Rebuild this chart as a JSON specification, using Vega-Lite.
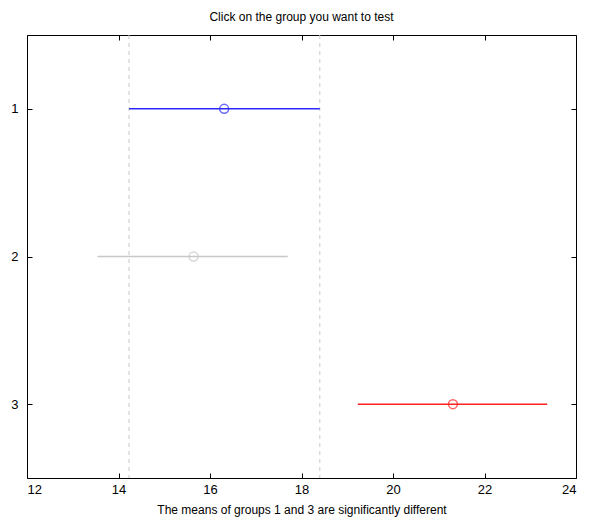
{
  "$schema": "https://vega.github.io/schema/vega-lite/v6.json",
  "autosize": "none",
  "width": 549,
  "height": 443,
  "padding": {"left": 27, "top": 35, "right": 19, "bottom": 47},
  "background": "white",
  "config": {
    "font": "Liberation Sans",
    "view": {"stroke": "black", "strokeWidth": 1},
    "axis": {"grid": false, "domain": false, "offset": -5, "tickColor": "black", "labelColor": "black", "titleColor": "black", "labelFont": "Liberation Sans", "titleFont": "Liberation Sans", "labelFontSize": 13, "labelFontWeight": "normal", "titleFontSize": 12, "titleFontWeight": "normal", "ticks": true, "tickSize": 5, "tickWidth": 1}
  },
  "title": {"text": "Click on the group you want to test", "fontSize": 12, "fontWeight": "normal", "font": "Liberation Sans", "color": "black", "offset": 11},
  "datasets": {
    "groups": [
      {"group": 1, "mean": 16.31, "lo": 14.23, "hi": 18.40},
      {"group": 2, "mean": 15.64, "lo": 13.54, "hi": 17.70},
      {"group": 3, "mean": 21.31, "lo": 19.23, "hi": 23.37}
    ],
    "bounds": [{"x": 14.23}, {"x": 18.40}]
  },
  "layer": [
    {
      "layer": [
        {
          "data": {"name": "bounds"},
          "mark": {"type": "rule", "color": "#c8c8c8", "strokeDash": [4, 4], "strokeWidth": 1},
          "encoding": {
            "x": {"field": "x", "type": "quantitative", "scale": {"domain": [12, 24], "nice": false, "zero": false},
                  "axis": {"orient": "bottom", "values": [12, 14, 16, 18, 20, 22, 24], "format": "d", "labelPadding": 5, "title": "The means of groups 1 and 3 are significantly different", "titlePadding": 8}}
          }
        },
        {
          "data": {"name": "groups"},
          "mark": {"type": "rule", "strokeWidth": 1.5},
          "encoding": {
            "x": {"field": "lo", "type": "quantitative"},
            "x2": {"field": "hi"},
            "y": {"field": "group", "type": "quantitative", "scale": {"domain": [0.5, 3.5], "reverse": true, "nice": false, "zero": false},
                  "axis": {"orient": "left", "values": [1, 2, 3], "format": "d", "labelPadding": 9, "title": null}},
            "color": {"field": "group", "type": "nominal", "scale": {"domain": [1, 2, 3], "range": ["#2a2aff", "#c8c8c8", "#ff2020"]}, "legend": null}
          }
        },
        {
          "data": {"name": "groups"},
          "mark": {"type": "point", "shape": "circle", "filled": false, "size": 80, "strokeWidth": 1.5},
          "encoding": {
            "x": {"field": "mean", "type": "quantitative"},
            "y": {"field": "group", "type": "quantitative"},
            "color": {"field": "group", "type": "nominal", "legend": null}
          }
        }
      ]
    },
    {
      "data": {"name": "groups"},
      "mark": {"type": "point", "opacity": 0},
      "encoding": {
        "x": {"field": "mean", "type": "quantitative", "axis": {"orient": "top", "values": [12, 14, 16, 18, 20, 22, 24], "labels": false, "title": null}},
        "y": {"field": "group", "type": "quantitative", "axis": {"orient": "right", "values": [1, 2, 3], "labels": false, "title": null}}
      }
    }
  ],
  "resolve": {"axis": {"x": "independent", "y": "independent"}}
}
